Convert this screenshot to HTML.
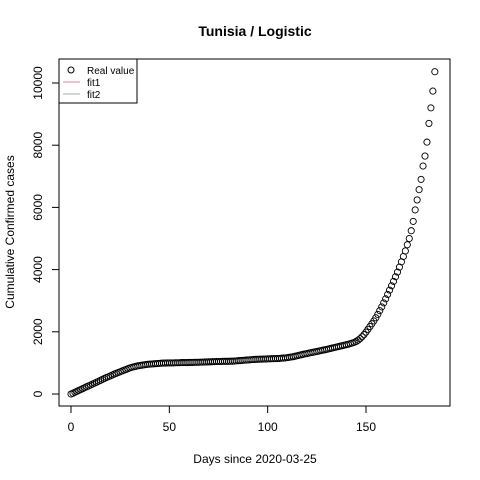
<!DOCTYPE html>
<html><head><meta charset="utf-8"><style>
html,body{margin:0;padding:0;background:#fff}
svg{display:block;font-family:"Liberation Sans",Arial,sans-serif}
</style></head><body>
<svg id="chart" width="480" height="480" viewBox="0 0 480 480">
<rect width="480" height="480" fill="#fff"/>
<text x="255" y="36" font-size="14" font-weight="bold" text-anchor="middle">Tunisia / Logistic</text>
<text x="255" y="463" font-size="12" text-anchor="middle">Days since 2020-03-25</text>
<text transform="translate(14,232) rotate(-90)" font-size="12" text-anchor="middle">Cumulative Confirmed cases</text>
<rect x="59" y="59" width="391" height="347" fill="none" stroke="#000" stroke-width="1"/>
<g id="xaxis"></g>
<g id="yaxis"></g>
<g id="points"></g>
<g>
<rect x="59" y="59" width="78" height="44" fill="#fff" stroke="#000" stroke-width="1"/>
<circle cx="71" cy="70" r="3" fill="none" stroke="#000"/>
<text x="87" y="74" font-size="10">Real value</text>
<line x1="63" y1="82" x2="80" y2="82" stroke="#f08080"/>
<text x="87" y="86" font-size="10">fit1</text>
<line x1="63" y1="94" x2="80" y2="94" stroke="#aaa"/>
<text x="87" y="98" font-size="10">fit2</text>
</g>
</svg>
<script>
const xTicks = [0, 50, 100, 150];
const yTicks = [0, 2000, 4000, 6000, 8000, 10000];
const cases = [
0,25,55,85,115,145,175,205,235,260,
290,320,350,380,410,440,470,500,530,555,
580,610,640,665,690,715,740,765,790,815,
840,860,875,890,905,915,925,935,945,955,
960,965,970,975,980,985,990,995,995,1000,
1000,1000,1000,1005,1005,1005,1010,1010,1010,1010,
1015,1015,1015,1020,1020,1020,1025,1025,1030,1030,
1035,1035,1040,1040,1045,1045,1045,1050,1050,1050,
1050,1055,1055,1060,1065,1070,1075,1080,1085,1090,
1095,1100,1105,1110,1115,1115,1120,1120,1125,1125,
1130,1130,1135,1135,1140,1140,1145,1150,1155,1160,
1170,1180,1190,1200,1215,1230,1245,1260,1275,1290,
1300,1315,1330,1340,1355,1365,1380,1395,1410,1420,
1435,1450,1465,1480,1495,1510,1525,1540,1555,1570,
1585,1600,1620,1640,1660,1690,1730,1780,1840,1910,
1990,2080,2170,2260,2350,2450,2560,2680,2800,2930,
3060,3200,3340,3480,3620,3770,3920,4080,4250,4420,
4600,4800,5000,5250,5550,5920,6240,6570,6900,7330,
7650,8100,8700,9200,9740,10363];
const NS='http://www.w3.org/2000/svg';
function xs(d){return 71 + d*(366-71)/150;}
function ys(v){return 394 - v*(394-83)/10000;}
function mk(tag,attrs,parent){const e=document.createElementNS(NS,tag);for(const k in attrs)e.setAttribute(k,attrs[k]);parent.appendChild(e);return e;}
const xa=document.getElementById('xaxis');
mk('line',{x1:xs(xTicks[0]),y1:406,x2:xs(xTicks[xTicks.length-1]),y2:406,stroke:'#000'},xa);
xTicks.forEach(t=>{
  const l=mk('line',{x1:xs(t),y1:406,x2:xs(t),y2:413,stroke:'#000'},xa);
  
  
  const tx=mk('text',{x:xs(t),y:431,'font-size':12,'text-anchor':'middle'},xa);
  tx.textContent=t;
  
  
});
const ya=document.getElementById('yaxis');
mk('line',{x1:59,y1:ys(yTicks[0]),x2:59,y2:ys(yTicks[yTicks.length-1]),stroke:'#000'},ya);
yTicks.forEach(t=>{
  const l=mk('line',{x1:52,y1:ys(t),x2:59,y2:ys(t),stroke:'#000'},ya);
  
  
  const tx=mk('text',{'font-size':12,'text-anchor':'middle',transform:'translate(42,'+ys(t)+') rotate(-90)'},ya);
  tx.textContent=t;
  
  
});
const pg=document.getElementById('points');
cases.forEach((v,i)=>{
  const c=mk('circle',{cx:xs(i),cy:ys(v),r:3.1,fill:'none',stroke:'#000','stroke-width':0.9},pg);
  
  
});
</script>
</body></html>
